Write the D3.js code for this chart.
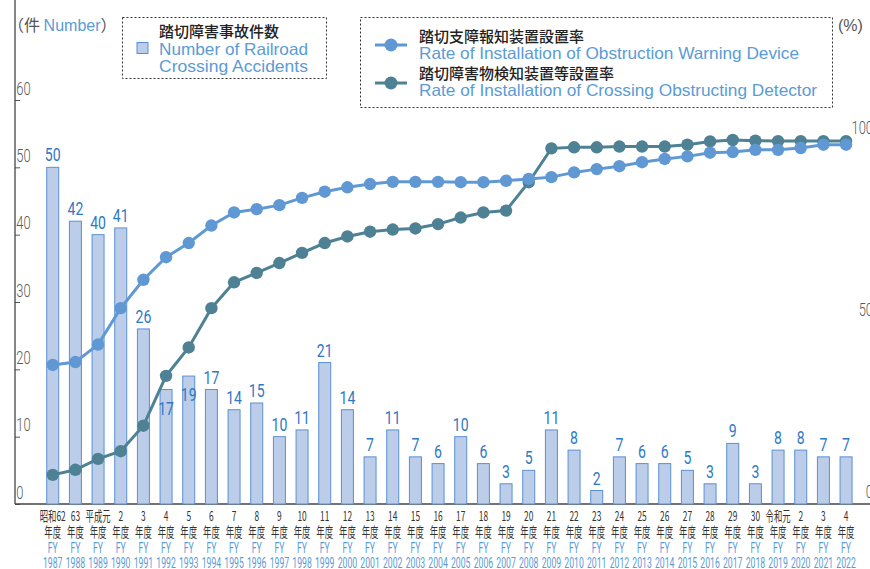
<!DOCTYPE html>
<html>
<head>
<meta charset="utf-8">
<script src="https://cdn.jsdelivr.net/npm/d3@7"></script>
<style>
  body { margin: 0; background: #fff; }
  svg { display: block; }
</style>
</head>
<body>
<svg id="chart" width="870" height="569"></svg>
<script>
var fiscalYears = ['1987','1988','1989','1990','1991','1992','1993','1994','1995','1996','1997','1998',
                   '1999','2000','2001','2002','2003','2004','2005','2006','2007','2008','2009','2010',
                   '2011','2012','2013','2014','2015','2016','2017','2018','2019','2020','2021','2022'];
var eraLabels = ['昭和62','63','平成元','2','3','4','5','6','7','8','9','10',
                 '11','12','13','14','15','16','17','18','19','20','21','22',
                 '23','24','25','26','27','28','29','30','令和元','2','3','4'];
var accidents = [50, 42, 40, 41, 26, 17, 19, 17, 14, 15, 10, 11,
                 21, 14, 7, 11, 7, 6, 10, 6, 3, 5, 11, 8,
                 2, 7, 6, 6, 5, 3, 9, 3, 8, 8, 7, 7];
// 踏切支障報知装置設置率 (%)
var warningRate = [38.2, 39.0, 43.8, 53.8, 61.6, 67.8, 71.7, 76.5, 80.1, 81.0, 82.1, 84.1,
                   85.8, 87.0, 87.9, 88.5, 88.5, 88.5, 88.4, 88.4, 88.8, 89.3, 89.8, 91.1,
                   92.0, 92.8, 93.9, 94.8, 95.5, 96.5, 96.7, 97.3, 97.3, 97.8, 98.7, 98.7];
// 踏切障害物検知装置等設置率 (%)
var detectorRate = [8.0, 9.4, 12.4, 14.5, 21.5, 35.2, 43.0, 53.8, 60.9, 63.5, 66.2, 69.0,
                    71.7, 73.5, 74.8, 75.4, 75.7, 76.9, 78.7, 80.1, 80.6, 88.4, 97.7, 98.0,
                    98.0, 98.2, 98.2, 98.2, 98.7, 99.6, 100, 99.8, 99.7, 99.7, 99.7, 99.7];
var countTicks = [0, 10, 20, 30, 40, 50, 60];
var rateTicks = [0, 50, 100];
// labels drawn inside the bar because the markers sit over them
var insideLabels = ['1992', '1993'];

var svg = d3.select('#chart')
  , blue = '#5b9bd5'
  , numFont = 'Roboto, "Liberation Sans", sans-serif'
  , jpFont = '"Noto Sans CJK JP", sans-serif'
  , latFont = '"Liberation Sans", Arial, sans-serif'
  , top = 5, bottom = 504, left = 15
  , x, y, yR, rows;

x = d3.scaleBand().domain(fiscalYears).range([41.4, 857.4]);
y = d3.scaleLinear().domain([0, 60]).range([bottom, 100]);
yR = d3.scaleLinear().domain([0, 100]).range([bottom, 140]);

function cx(d) { return x(d) + x.bandwidth() / 2; }

// panel
svg.append('rect').attr('x', left).attr('y', top)
  .attr('width', 870 - left).attr('height', bottom - top).attr('fill', '#edf2fa');

// left axis
var leftAxis = svg.append('g').attr('transform', 'translate(' + left + ',0)')
  .call(d3.axisRight(y).tickValues(countTicks).tickSize(5).tickPadding(0));
leftAxis.select('.domain').remove();
leftAxis.selectAll('line').attr('stroke', '#555');
leftAxis.selectAll('text')
  .attr('dy', null).attr('y', -6).attr('x', 2)
  .attr('transform', 'scale(0.68,1)')
  .attr('fill', '#5a5a5a').style('font', '300 19px ' + numFont);

svg.append('line').attr('x1', left).attr('x2', left).attr('y1', top).attr('y2', bottom)
  .attr('stroke', '#444').attr('stroke-width', 1.3);
svg.append('line').attr('x1', left).attr('x2', 870).attr('y1', bottom).attr('y2', bottom)
  .attr('stroke', '#444').attr('stroke-width', 1.3);

// right axis labels
svg.append('g').selectAll('text').data(rateTicks).enter().append('text')
  .attr('transform', function (d) { return 'translate(873,' + (yR(d) - 6) + ') scale(0.68,1)'; })
  .attr('text-anchor', 'end').attr('fill', '#5a5a5a')
  .style('font', '300 19px ' + numFont)
  .text(function (d) { return d; });

// bars
svg.append('g').selectAll('rect').data(fiscalYears).enter().append('rect')
  .attr('x', function (d) { return cx(d) - 6; })
  .attr('width', 12)
  .attr('y', function (d, i) { return y(accidents[i]); })
  .attr('height', function (d, i) { return bottom - y(accidents[i]); })
  .attr('fill', '#bccde9').attr('stroke', '#5a90d0').attr('stroke-width', 1);

// lines
function drawLine(vals, color) {
  var line = d3.line()
    .x(function (d, i) { return cx(fiscalYears[i]); })
    .y(function (d) { return yR(d); });
  svg.append('path').datum(vals).attr('d', line)
    .attr('fill', 'none').attr('stroke', color).attr('stroke-width', 3);
  svg.append('g').selectAll('circle').data(vals).enter().append('circle')
    .attr('cx', function (d, i) { return cx(fiscalYears[i]); })
    .attr('cy', function (d) { return yR(d); })
    .attr('r', 6.2).attr('fill', color);
}
drawLine(detectorRate, '#4e8194');
drawLine(warningRate, '#6098d4');

// bar value labels
svg.append('g').selectAll('text').data(fiscalYears).enter().append('text')
  .attr('transform', function (d, i) {
    var ty = y(accidents[i]) + (insideLabels.indexOf(d) >= 0 ? 25 : -6);
    return 'translate(' + cx(d) + ',' + ty + ') scale(0.76,1)';
  })
  .attr('text-anchor', 'middle').attr('fill', '#2f78c4')
  .style('font', '400 18.5px ' + numFont)
  .text(function (d, i) { return accidents[i]; });

// x labels
rows = [
  { get: function (d, i) { return eraLabels[i]; }, y: 521, fill: '#333', size: 13.5, sx: 0.62 },
  { get: function () { return '年度'; }, y: 537, fill: '#333', size: 13.5, sx: 0.62 },
  { get: function () { return 'FY'; }, y: 553, fill: blue, size: 14.5, sx: 0.6 },
  { get: function (d) { return d; }, y: 568, fill: blue, size: 14.5, sx: 0.6 }
];
rows.forEach(function (r) {
  svg.append('g').selectAll('text').data(fiscalYears).enter().append('text')
    .attr('transform', function (d) { return 'translate(' + cx(d) + ',' + r.y + ') scale(' + r.sx + ',1)'; })
    .attr('text-anchor', 'middle').attr('fill', r.fill)
    .style('font', r.size + 'px ' + (r.fill === blue ? numFont : jpFont))
    .text(r.get);
});

// unit labels
var unit = svg.append('text').attr('x', 8).attr('y', 31).style('font', '16px ' + latFont);
unit.append('tspan').attr('fill', '#555').style('font-family', jpFont).text('（件 ');
unit.append('tspan').attr('fill', blue).text('Number');
unit.append('tspan').attr('fill', '#555').style('font-family', jpFont).text('）');
svg.append('text').attr('x', 838).attr('y', 31).attr('fill', '#555')
  .style('font', '16px ' + latFont).text('(%)');

// legend boxes
function box(x0, y0, w, h) {
  svg.append('rect').attr('x', x0).attr('y', y0).attr('width', w).attr('height', h)
    .attr('fill', '#fff').attr('stroke', '#333').attr('stroke-width', 1)
    .attr('stroke-dasharray', '2,2');
}
function jpText(tx, ty, s) {
  svg.append('text').attr('x', tx).attr('y', ty).attr('fill', '#222')
    .style('font', '500 15px ' + jpFont).text(s);
}
function enText(tx, ty, s, len) {
  svg.append('text').attr('x', tx).attr('y', ty).attr('fill', blue)
    .attr('textLength', len).attr('lengthAdjust', 'spacingAndGlyphs')
    .style('font', '16.5px ' + latFont).text(s);
}

box(122.5, 17.5, 204, 61);
jpText(159, 37, '踏切障害事故件数');
svg.append('rect').attr('x', 137).attr('y', 42.5).attr('width', 11).attr('height', 11)
  .attr('fill', '#bccde9').attr('stroke', '#5a90d0');
enText(159, 55, 'Number of Railroad', 149);
enText(159, 72, 'Crossing Accidents', 149);

box(360.5, 17.5, 472, 90);
function legendLine(ly, color) {
  svg.append('line').attr('x1', 375).attr('x2', 407).attr('y1', ly).attr('y2', ly)
    .attr('stroke', color).attr('stroke-width', 3);
  svg.append('circle').attr('cx', 391).attr('cy', ly).attr('r', 6.5).attr('fill', color);
}
jpText(419, 42, '踏切支障報知装置設置率');
legendLine(45, '#6098d4');
enText(419, 59, 'Rate of Installation of Obstruction Warning Device', 380);
jpText(419, 79, '踏切障害物検知装置等設置率');
legendLine(83, '#4e8194');
enText(419, 96, 'Rate of Installation of Crossing Obstructing Detector', 398);
</script>
</body>
</html>
